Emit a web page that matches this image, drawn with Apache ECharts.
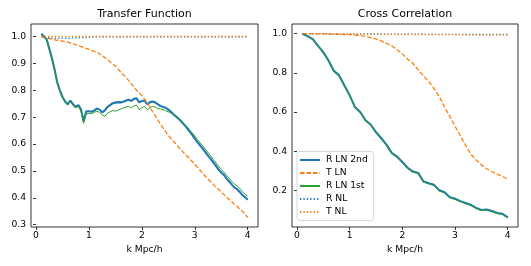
<!DOCTYPE html>
<html><head><meta charset="utf-8">
<script src="https://cdn.jsdelivr.net/npm/echarts@6/dist/echarts.min.js"></script>
<style>html,body{margin:0;padding:0;background:#fff}#c{width:531px;height:266px}</style>
</head><body><div id="c"></div>
<script>
// k values
const kFine = []; for (let i = 0; i < 79; i++) kFine.push(+(0.10 + i * 0.05).toFixed(2));
const kCoarse = []; for (let i = 0; i < 40; i++) kCoarse.push(+(0.1 + i * 0.1).toFixed(1));
const xTicks = [0, 1, 2, 3, 4];
const yTicksLeft = [0.3, 0.4, 0.5, 0.6, 0.7, 0.8, 0.9, 1.0];
const yTicksRight = [0.2, 0.4, 0.6, 0.8, 1.0];
const seriesNames = ['R LN 2nd', 'T LN', 'R LN 1st', 'R NL', 'T NL'];

// Transfer Function (left)
const tfRLN2 = [1.01,1.0,0.99,0.955,0.92,0.878,0.83,0.80,0.775,0.758,
0.748,0.762,0.748,0.738,0.745,0.728,0.685,0.722,0.722,0.72,
0.725,0.732,0.728,0.718,0.725,0.738,0.745,0.752,0.754,0.756,
0.755,0.757,0.762,0.765,0.76,0.768,0.77,0.755,0.76,0.762,
0.748,0.755,0.758,0.755,0.748,0.742,0.738,0.735,0.728,0.72,
0.71,0.702,0.693,0.683,0.672,0.66,0.647,0.635,0.62,0.607,
0.595,0.583,0.57,0.557,0.545,0.532,0.519,0.505,0.494,0.485,
0.472,0.461,0.449,0.438,0.432,0.422,0.41,0.402,0.393];
const tfRLN1 = [1.01,1.0,0.988,0.955,0.918,0.876,0.828,0.798,0.772,0.755,
0.745,0.758,0.744,0.734,0.741,0.722,0.677,0.714,0.714,0.713,
0.718,0.722,0.718,0.708,0.703,0.715,0.72,0.725,0.722,0.726,
0.73,0.734,0.738,0.74,0.735,0.742,0.745,0.728,0.735,0.74,
0.728,0.735,0.74,0.738,0.732,0.73,0.728,0.724,0.72,0.715,
0.708,0.701,0.694,0.685,0.675,0.665,0.653,0.642,0.63,0.617,
0.605,0.594,0.581,0.568,0.556,0.543,0.53,0.517,0.505,0.496,
0.484,0.473,0.461,0.451,0.444,0.435,0.423,0.414,0.406];
const tfTLN = [1.0,0.995,0.99,0.986,0.983,0.979,0.973,0.966,0.959,0.952,
0.945,0.936,0.922,0.906,0.89,0.868,0.848,0.825,0.80,0.78,
0.755,0.722,0.69,0.66,0.632,0.61,0.587,0.566,0.546,0.525,
0.503,0.48,0.46,0.44,0.422,0.403,0.385,0.368,0.35,0.327];
const tfRNL = [1.0,0.997,0.994,0.993,0.993,0.993,0.994,0.995,0.996,0.997,
0.998,0.999,0.999,0.999,0.999,0.999,0.999,0.999,0.999,0.999,
0.999,0.999,0.999,0.999,0.999,0.999,0.999,0.999,0.999,0.999,
0.999,0.999,0.999,0.999,0.999,0.999,0.999,0.999,0.999,0.999];
const tfTNL = [1.0,1.0,1.0,1.0,1.0,1.0,1.0,1.0,1.0,1.0,
1.0,1.0,1.0,1.0,1.0,1.0,1.0,1.0,1.0,1.0,
1.0,1.0,1.0,1.0,1.0,1.0,1.0,1.0,1.0,1.0,
1.0,1.0,1.0,1.0,1.0,1.0,1.0,1.0,1.0,1.0];

// Cross Correlation (right)
const ccRLN2 = [1.0,0.988,0.972,0.938,0.905,0.862,0.81,0.787,0.735,0.685,
0.625,0.6,0.558,0.535,0.497,0.466,0.432,0.39,0.372,0.345,
0.315,0.296,0.289,0.245,0.236,0.228,0.2,0.19,0.165,0.157,
0.145,0.135,0.126,0.11,0.1,0.102,0.094,0.084,0.08,0.062];
const ccRLN1 = [1.0,0.987,0.97,0.936,0.902,0.859,0.807,0.784,0.732,0.682,
0.622,0.597,0.555,0.532,0.494,0.463,0.429,0.387,0.369,0.342,
0.312,0.293,0.286,0.242,0.233,0.225,0.197,0.187,0.162,0.154,
0.142,0.132,0.123,0.107,0.097,0.099,0.091,0.081,0.077,0.059];
const ccTLN = [1.0,1.0,1.0,0.999,0.999,0.998,0.998,0.997,0.996,0.995,
0.993,0.99,0.986,0.98,0.973,0.963,0.951,0.937,0.918,0.897,
0.87,0.848,0.815,0.785,0.755,0.72,0.68,0.625,0.578,0.527,
0.48,0.43,0.385,0.355,0.33,0.31,0.295,0.283,0.272,0.256];
const ccRNL = [1.0,1.0,1.0,1.0,1.0,1.0,0.999,0.999,0.999,0.999,
0.999,0.999,0.999,0.999,0.999,0.998,0.998,0.998,0.998,0.998,
0.998,0.998,0.998,0.997,0.997,0.997,0.997,0.997,0.997,0.997,
0.996,0.996,0.996,0.996,0.996,0.996,0.996,0.996,0.996,0.996];
const ccTNL = [1.0,1.0,1.0,1.0,1.0,0.999,0.999,0.999,0.999,0.999,
0.999,0.998,0.998,0.998,0.998,0.998,0.997,0.997,0.997,0.997,
0.997,0.996,0.996,0.996,0.996,0.996,0.995,0.995,0.995,0.995,
0.995,0.995,0.994,0.994,0.994,0.994,0.994,0.994,0.994,0.994];

const FONT = 'DejaVu Sans';
const FS = 9.2;
const BLUE = '#1f77b4', ORANGE = '#ff7f0e', GREEN = '#2ca02c';
const pair = (ks, vs) => vs.map((v, i) => [ks[i], v]);

function xAxis(gi) {
  return {
    type: 'value', gridIndex: gi, min: -0.095, max: 4.195,
    name: 'k Mpc/h', nameLocation: 'middle', nameGap: 17,
    nameTextStyle: { fontFamily: FONT, fontSize: FS, color: '#000' },
    axisLine: { show: false }, splitLine: { show: false },
    axisTick: { show: true, inside: false, length: 3, customValues: xTicks, lineStyle: { color: '#000', width: 0.8 } },
    axisLabel: { show: true, customValues: xTicks, margin: 4, fontFamily: FONT, fontSize: FS, color: '#000', formatter: v => String(Math.round(v)) }
  };
}
function yAxis(gi, min, max, ticks) {
  return {
    type: 'value', gridIndex: gi, min: min, max: max,
    axisLine: { show: false }, splitLine: { show: false },
    axisTick: { show: true, inside: false, length: 3, customValues: ticks, lineStyle: { color: '#000', width: 0.8 } },
    axisLabel: { show: true, customValues: ticks, margin: 5, fontFamily: FONT, fontSize: FS, color: '#000', formatter: v => v.toFixed(1) }
  };
}
function mk(name, gi, data, color, width, type, z) {
  return {
    name: name, type: 'line', xAxisIndex: gi, yAxisIndex: gi, data: data,
    symbol: 'none', showSymbol: false, silent: true, animation: false, z: z,
    itemStyle: { color: color },
    lineStyle: { color: color, width: width, type: type }
  };
}
const DASH = [4.5, 2];
const DOT = [1.3, 2.1];

const chart = echarts.init(document.getElementById('c'), null, { renderer: 'canvas' });
chart.setOption({
  animation: false,
  backgroundColor: '#fff',
  title: [
    { text: 'Transfer Function', left: 144.5, top: 8.5, textAlign: 'center', padding: 0,
      textStyle: { fontFamily: FONT, fontSize: 11, fontWeight: 'normal', color: '#000' } },
    { text: 'Cross Correlation', left: 405, top: 8.5, textAlign: 'center', padding: 0,
      textStyle: { fontFamily: FONT, fontSize: 11, fontWeight: 'normal', color: '#000' } }
  ],
  grid: [
    { left: 31, top: 24, width: 227, height: 203, show: true, borderColor: '#000', borderWidth: 0.8, backgroundColor: 'transparent', containLabel: false },
    { left: 292, top: 24, width: 226, height: 203, show: true, borderColor: '#000', borderWidth: 0.8, backgroundColor: 'transparent', containLabel: false }
  ],
  xAxis: [xAxis(0), xAxis(1)],
  yAxis: [yAxis(0, 0.2915, 1.0465, yTicksLeft), yAxis(1, 0.0128, 1.0495, yTicksRight)],
  legend: {
    orient: 'vertical', left: 297, top: 151.5, selectedMode: false,
    data: seriesNames,
    itemWidth: 20, itemHeight: 10, itemGap: 4,
    padding: [4, 6, 4, 2],
    backgroundColor: 'rgba(255,255,255,0.8)', borderColor: '#ccc', borderWidth: 0.8, borderRadius: 3,
    textStyle: { fontFamily: FONT, fontSize: FS, color: '#000', padding: [0, 0, 0, 1] },
    itemStyle: { opacity: 0 }
  },
  series: [
    mk(seriesNames[0], 0, pair(kFine, tfRLN2), BLUE, 2.1, 'solid', 2),
    mk(seriesNames[1], 0, pair(kCoarse, tfTLN), ORANGE, 1.3, DASH, 3),
    mk(seriesNames[2], 0, pair(kFine, tfRLN1), GREEN, 1, 'solid', 4),
    mk(seriesNames[3], 0, pair(kCoarse, tfRNL), BLUE, 1.3, DOT, 5),
    mk(seriesNames[4], 0, pair(kCoarse, tfTNL), ORANGE, 1.3, DOT, 6),
    mk(seriesNames[0], 1, pair(kCoarse, ccRLN2), BLUE, 2.1, 'solid', 2),
    mk(seriesNames[1], 1, pair(kCoarse, ccTLN), ORANGE, 1.3, DASH, 3),
    mk(seriesNames[2], 1, pair(kCoarse, ccRLN1), GREEN, 1, 'solid', 4),
    mk(seriesNames[3], 1, pair(kCoarse, ccRNL), BLUE, 1.3, DOT, 5),
    mk(seriesNames[4], 1, pair(kCoarse, ccTNL), ORANGE, 1.3, DOT, 6)
  ]
});
</script>
</body></html>
